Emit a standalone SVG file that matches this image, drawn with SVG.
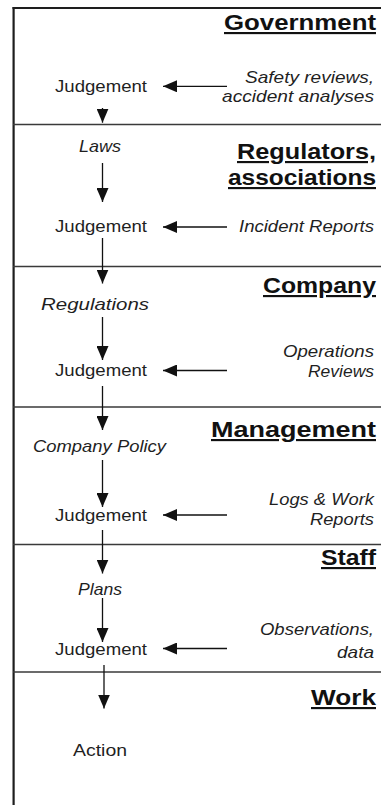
<svg xmlns="http://www.w3.org/2000/svg" width="381" height="805" viewBox="0 0 381 805">
<defs>
<marker id="ah" markerUnits="userSpaceOnUse" markerWidth="14" markerHeight="12" refX="14" refY="6" orient="auto">
<path d="M0,0 L14,6 L0,12 z" fill="#111"/>
</marker>
<style>
.t{font-family:"Liberation Sans",Arial,sans-serif;font-size:16.5px;fill:#1f1f1f}
.i{font-style:italic}
.h{font-family:"Liberation Sans",Arial,sans-serif;font-size:21.5px;font-weight:bold;fill:#111;text-decoration:underline}
.c{stroke:#111;stroke-width:1.3;fill:none}
.sep{stroke:#3a3a3a;stroke-width:1.6}
.bd{stroke:#1e1e1e;stroke-width:2.2}
</style>
</defs>
<rect width="381" height="805" fill="#fff"/>
<g id="frame">
<line class="bd" x1="13.6" y1="7" x2="13.6" y2="805"/>
<line class="bd" x1="12.5" y1="8" x2="381" y2="8"/>
<line class="sep" x1="13" y1="124.5" x2="381" y2="124.5"/>
<line class="sep" x1="13" y1="266.5" x2="381" y2="266.5"/>
<line class="sep" x1="13" y1="407" x2="381" y2="407"/>
<line class="sep" x1="13" y1="544.5" x2="381" y2="544.5"/>
<line class="sep" x1="13" y1="672" x2="381" y2="672"/>
</g>
<g id="lane-government"><text class="h" x="376" y="30" text-anchor="end" textLength="152" lengthAdjust="spacingAndGlyphs">Government</text></g>
<g id="lane-regulators"><text class="h" x="376" y="159" text-anchor="end" textLength="139" lengthAdjust="spacingAndGlyphs">Regulators,</text><text class="h" x="376" y="185" text-anchor="end" textLength="148" lengthAdjust="spacingAndGlyphs">associations</text></g>
<g id="lane-company"><text class="h" x="376" y="293" text-anchor="end" textLength="113" lengthAdjust="spacingAndGlyphs">Company</text></g>
<g id="lane-management"><text class="h" x="376" y="437" text-anchor="end" textLength="165" lengthAdjust="spacingAndGlyphs">Management</text></g>
<g id="lane-staff"><text class="h" x="376" y="565" text-anchor="end" textLength="55" lengthAdjust="spacingAndGlyphs">Staff</text></g>
<g id="lane-work"><text class="h" x="376" y="705" text-anchor="end" textLength="65" lengthAdjust="spacingAndGlyphs">Work</text></g>

<g id="judgement-1"><text class="t" x="55" y="92" textLength="92" lengthAdjust="spacingAndGlyphs">Judgement</text></g>
<g id="input-1"><text class="t i" x="374" y="83" text-anchor="end" textLength="129" lengthAdjust="spacingAndGlyphs">Safety reviews,</text><text class="t i" x="374" y="101.8" text-anchor="end" textLength="152" lengthAdjust="spacingAndGlyphs">accident analyses</text></g>

<g id="laws"><text class="t i" x="79" y="152" textLength="42" lengthAdjust="spacingAndGlyphs">Laws</text></g>
<g id="judgement-2"><text class="t" x="55" y="232" textLength="92" lengthAdjust="spacingAndGlyphs">Judgement</text></g>
<g id="input-2"><text class="t i" x="374" y="232" text-anchor="end" textLength="135" lengthAdjust="spacingAndGlyphs">Incident Reports</text></g>

<g id="regulations"><text class="t i" x="41" y="310" textLength="108" lengthAdjust="spacingAndGlyphs">Regulations</text></g>
<g id="judgement-3"><text class="t" x="55" y="376" textLength="92" lengthAdjust="spacingAndGlyphs">Judgement</text></g>
<g id="input-3"><text class="t i" x="374" y="357" text-anchor="end" textLength="91" lengthAdjust="spacingAndGlyphs">Operations</text><text class="t i" x="374" y="377" text-anchor="end" textLength="66" lengthAdjust="spacingAndGlyphs">Reviews</text></g>

<g id="company-policy"><text class="t i" x="33" y="452" textLength="133" lengthAdjust="spacingAndGlyphs">Company Policy</text></g>
<g id="judgement-4"><text class="t" x="55" y="520.5" textLength="92" lengthAdjust="spacingAndGlyphs">Judgement</text></g>
<g id="input-4"><text class="t i" x="374" y="505" text-anchor="end" textLength="105" lengthAdjust="spacingAndGlyphs">Logs &amp; Work</text><text class="t i" x="374" y="525" text-anchor="end" textLength="64" lengthAdjust="spacingAndGlyphs">Reports</text></g>

<g id="plans"><text class="t i" x="78" y="595" textLength="44" lengthAdjust="spacingAndGlyphs">Plans</text></g>
<g id="judgement-5"><text class="t" x="55" y="654.5" textLength="92" lengthAdjust="spacingAndGlyphs">Judgement</text></g>
<g id="input-5"><text class="t i" x="374" y="635" text-anchor="end" textLength="114" lengthAdjust="spacingAndGlyphs">Observations,</text><text class="t i" x="374" y="658" text-anchor="end" textLength="37" lengthAdjust="spacingAndGlyphs">data</text></g>

<g id="action"><text class="t" x="73" y="756" textLength="54" lengthAdjust="spacingAndGlyphs">Action</text></g>

<g id="connectors">
<line class="c" x1="227" y1="86.3" x2="163" y2="86.3" marker-end="url(#ah)"/>
<line class="c" x1="227" y1="227" x2="163" y2="227" marker-end="url(#ah)"/>
<line class="c" x1="227" y1="370.5" x2="163" y2="370.5" marker-end="url(#ah)"/>
<line class="c" x1="227" y1="515" x2="163" y2="515" marker-end="url(#ah)"/>
<line class="c" x1="227" y1="648.5" x2="163" y2="648.5" marker-end="url(#ah)"/>
<line class="c" x1="102.5" y1="108" x2="102.5" y2="122.7" marker-end="url(#ah)"/>
<line class="c" x1="102.5" y1="163" x2="102.5" y2="202" marker-end="url(#ah)"/>
<line class="c" x1="102.5" y1="238" x2="102.5" y2="283.5" marker-end="url(#ah)"/>
<line class="c" x1="102.5" y1="317" x2="102.5" y2="360" marker-end="url(#ah)"/>
<line class="c" x1="102.5" y1="386" x2="102.5" y2="430" marker-end="url(#ah)"/>
<line class="c" x1="102.5" y1="460" x2="102.5" y2="507" marker-end="url(#ah)"/>
<line class="c" x1="102.5" y1="530" x2="102.5" y2="573.5" marker-end="url(#ah)"/>
<line class="c" x1="102.5" y1="598" x2="102.5" y2="642" marker-end="url(#ah)"/>
<line class="c" x1="104" y1="665" x2="104" y2="708.5" marker-end="url(#ah)"/>
</g>
</svg>
